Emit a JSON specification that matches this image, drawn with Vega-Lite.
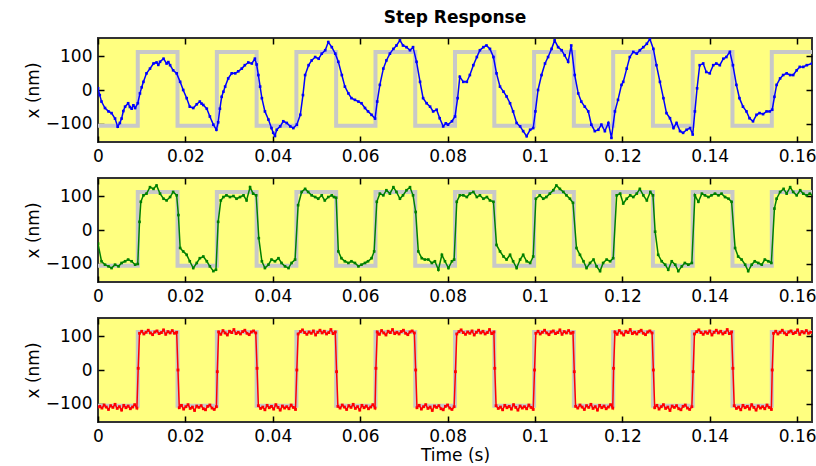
{
"$schema":"https://vega.github.io/schema/vega-lite/v6.json",
"padding":{"left":23,"top":8,"right":0,"bottom":0},
"config":{
"font":"DejaVu Sans",
"view":{"fill":"#ffff80","stroke":"#333333","strokeWidth":2},
"axis":{"domain":false,"grid":false,"ticks":true,"tickSize":-6,"tickWidth":1.5,"tickColor":"#000","labelFont":"DejaVu Sans","labelFontSize":17,"labelColor":"#000","labelPadding":12,"labelFlush":false,"labelOverlap":false,"titleFont":"DejaVu Sans","titleFontSize":17,"titleFontWeight":"normal","titleColor":"#000","titlePadding":3},
"title":{"font":"DejaVu Sans","fontSize":17,"fontWeight":"bold","color":"#000"}
},
"datasets":{
"sq":[{"t":0,"x":-105},{"t":0.0091,"x":112},{"t":0.0182,"x":-105},{"t":0.0272,"x":112},{"t":0.0363,"x":-105},{"t":0.0454,"x":112},{"t":0.0545,"x":-105},{"t":0.0635,"x":112},{"t":0.0726,"x":-105},{"t":0.0817,"x":112},{"t":0.0907,"x":-105},{"t":0.0998,"x":112},{"t":0.1089,"x":-105},{"t":0.1179,"x":112},{"t":0.127,"x":-105},{"t":0.1361,"x":112},{"t":0.1452,"x":-105},{"t":0.1542,"x":112},{"t":0.1634,"x":112}],
"blue":[{"t":0,"x":5},{"t":0.0004,"x":-15},{"t":0.0008,"x":-34},{"t":0.0016,"x":-53},{"t":0.0024,"x":-63},{"t":0.0031,"x":-68},{"t":0.0039,"x":-84},{"t":0.0045,"x":-108},{"t":0.005,"x":-97},{"t":0.0054,"x":-84},{"t":0.0058,"x":-62},{"t":0.0062,"x":-49},{"t":0.0069,"x":-39},{"t":0.0073,"x":-50},{"t":0.0077,"x":-55},{"t":0.0081,"x":-45},{"t":0.0085,"x":-53},{"t":0.0091,"x":-39},{"t":0.0096,"x":-10},{"t":0.01,"x":8},{"t":0.0104,"x":24},{"t":0.0111,"x":49},{"t":0.0119,"x":63},{"t":0.0127,"x":78},{"t":0.0134,"x":81},{"t":0.0138,"x":74},{"t":0.0142,"x":83},{"t":0.015,"x":92},{"t":0.0157,"x":78},{"t":0.0161,"x":82},{"t":0.0165,"x":73},{"t":0.0172,"x":58},{"t":0.018,"x":49},{"t":0.0188,"x":24},{"t":0.0195,"x":0},{"t":0.0203,"x":-24},{"t":0.021,"x":-49},{"t":0.0218,"x":-53},{"t":0.0226,"x":-42},{"t":0.0233,"x":-34},{"t":0.0237,"x":-40},{"t":0.0241,"x":-44},{"t":0.0249,"x":-55},{"t":0.0256,"x":-78},{"t":0.0264,"x":-102},{"t":0.0271,"x":-117},{"t":0.0275,"x":-95},{"t":0.0279,"x":-55},{"t":0.0283,"x":-20},{"t":0.0287,"x":-5},{"t":0.0291,"x":10},{"t":0.0298,"x":34},{"t":0.0306,"x":49},{"t":0.0314,"x":49},{"t":0.0321,"x":55},{"t":0.0329,"x":63},{"t":0.0336,"x":73},{"t":0.0344,"x":81},{"t":0.0352,"x":78},{"t":0.0359,"x":92},{"t":0.0363,"x":75},{"t":0.0367,"x":44},{"t":0.0371,"x":10},{"t":0.0375,"x":-24},{"t":0.0382,"x":-63},{"t":0.039,"x":-87},{"t":0.0397,"x":-112},{"t":0.0401,"x":-126},{"t":0.0405,"x":-135},{"t":0.0409,"x":-117},{"t":0.0417,"x":-107},{"t":0.0424,"x":-92},{"t":0.0432,"x":-97},{"t":0.044,"x":-107},{"t":0.0447,"x":-112},{"t":0.0455,"x":-102},{"t":0.0463,"x":-73},{"t":0.0469,"x":-15},{"t":0.0474,"x":44},{"t":0.0482,"x":73},{"t":0.0489,"x":87},{"t":0.0497,"x":97},{"t":0.0505,"x":92},{"t":0.0512,"x":107},{"t":0.052,"x":117},{"t":0.0527,"x":141},{"t":0.0535,"x":126},{"t":0.0543,"x":107},{"t":0.055,"x":83},{"t":0.0558,"x":44},{"t":0.0565,"x":10},{"t":0.0573,"x":-10},{"t":0.058,"x":-24},{"t":0.0588,"x":-29},{"t":0.0596,"x":-34},{"t":0.0603,"x":-39},{"t":0.0611,"x":-53},{"t":0.0618,"x":-63},{"t":0.0626,"x":-73},{"t":0.0634,"x":-84},{"t":0.0639,"x":-34},{"t":0.0645,"x":15},{"t":0.0653,"x":63},{"t":0.066,"x":87},{"t":0.0668,"x":107},{"t":0.0676,"x":121},{"t":0.0683,"x":131},{"t":0.0691,"x":146},{"t":0.0698,"x":131},{"t":0.0706,"x":126},{"t":0.0714,"x":117},{"t":0.0721,"x":126},{"t":0.0729,"x":83},{"t":0.0737,"x":24},{"t":0.0744,"x":-24},{"t":0.0752,"x":-39},{"t":0.076,"x":-49},{"t":0.0767,"x":-63},{"t":0.0775,"x":-58},{"t":0.0782,"x":-83},{"t":0.079,"x":-107},{"t":0.0796,"x":-98},{"t":0.0801,"x":-102},{"t":0.081,"x":-92},{"t":0.0817,"x":-78},{"t":0.0823,"x":-24},{"t":0.0828,"x":39},{"t":0.0836,"x":24},{"t":0.0844,"x":24},{"t":0.0851,"x":44},{"t":0.0859,"x":73},{"t":0.0867,"x":97},{"t":0.0874,"x":117},{"t":0.0882,"x":126},{"t":0.0889,"x":131},{"t":0.0897,"x":121},{"t":0.0905,"x":97},{"t":0.0912,"x":49},{"t":0.092,"x":10},{"t":0.0928,"x":-5},{"t":0.0935,"x":-19},{"t":0.0943,"x":-39},{"t":0.095,"x":-63},{"t":0.0958,"x":-97},{"t":0.0966,"x":-107},{"t":0.0973,"x":-121},{"t":0.0981,"x":-136},{"t":0.0989,"x":-117},{"t":0.0996,"x":-112},{"t":0.1001,"x":-63},{"t":0.1007,"x":0},{"t":0.1015,"x":44},{"t":0.1023,"x":78},{"t":0.103,"x":97},{"t":0.1038,"x":121},{"t":0.1045,"x":146},{"t":0.1053,"x":126},{"t":0.1061,"x":117},{"t":0.1068,"x":102},{"t":0.1076,"x":83},{"t":0.1083,"x":131},{"t":0.1091,"x":44},{"t":0.1099,"x":-10},{"t":0.1106,"x":-34},{"t":0.1114,"x":-49},{"t":0.1122,"x":-63},{"t":0.1129,"x":-102},{"t":0.1137,"x":-121},{"t":0.1145,"x":-117},{"t":0.1152,"x":-102},{"t":0.116,"x":-121},{"t":0.1168,"x":-97},{"t":0.1175,"x":-141},{"t":0.1183,"x":-63},{"t":0.119,"x":-29},{"t":0.1198,"x":15},{"t":0.1202,"x":24},{"t":0.121,"x":63},{"t":0.1217,"x":97},{"t":0.1225,"x":112},{"t":0.1233,"x":107},{"t":0.124,"x":117},{"t":0.1248,"x":126},{"t":0.1256,"x":136},{"t":0.1263,"x":150},{"t":0.1271,"x":121},{"t":0.1278,"x":73},{"t":0.1286,"x":24},{"t":0.1294,"x":-24},{"t":0.1301,"x":-68},{"t":0.1309,"x":-83},{"t":0.1317,"x":-112},{"t":0.1324,"x":-97},{"t":0.1332,"x":-121},{"t":0.1339,"x":-126},{"t":0.1347,"x":-117},{"t":0.1355,"x":-112},{"t":0.1361,"x":-131},{"t":0.1366,"x":-63},{"t":0.1371,"x":5},{"t":0.1377,"x":73},{"t":0.1385,"x":78},{"t":0.1392,"x":53},{"t":0.14,"x":49},{"t":0.1408,"x":73},{"t":0.1415,"x":78},{"t":0.1423,"x":73},{"t":0.1431,"x":92},{"t":0.1438,"x":97},{"t":0.1446,"x":112},{"t":0.1453,"x":73},{"t":0.1461,"x":15},{"t":0.1468,"x":-24},{"t":0.1476,"x":-49},{"t":0.1484,"x":-63},{"t":0.1491,"x":-83},{"t":0.1499,"x":-92},{"t":0.1507,"x":-73},{"t":0.1514,"x":-68},{"t":0.1522,"x":-71},{"t":0.153,"x":-63},{"t":0.1537,"x":-63},{"t":0.1543,"x":-58},{"t":0.1548,"x":-20},{"t":0.1553,"x":15},{"t":0.1561,"x":34},{"t":0.1568,"x":44},{"t":0.1576,"x":49},{"t":0.1584,"x":44},{"t":0.1591,"x":44},{"t":0.1599,"x":58},{"t":0.1606,"x":68},{"t":0.1614,"x":68},{"t":0.1622,"x":73},{"t":0.1634,"x":78}],
"green":[{"t":0,"x":-40},{"t":0.0008,"x":-92},{"t":0.0016,"x":-102},{"t":0.0024,"x":-107},{"t":0.0031,"x":-112},{"t":0.0039,"x":-102},{"t":0.0047,"x":-107},{"t":0.0054,"x":-97},{"t":0.0062,"x":-92},{"t":0.0069,"x":-87},{"t":0.0077,"x":-92},{"t":0.0085,"x":-102},{"t":0.0091,"x":-100},{"t":0.0095,"x":24},{"t":0.0098,"x":83},{"t":0.0104,"x":102},{"t":0.0111,"x":107},{"t":0.0119,"x":126},{"t":0.0127,"x":121},{"t":0.0134,"x":131},{"t":0.0142,"x":107},{"t":0.015,"x":92},{"t":0.0157,"x":87},{"t":0.0165,"x":97},{"t":0.0172,"x":112},{"t":0.018,"x":102},{"t":0.0184,"x":44},{"t":0.0188,"x":-53},{"t":0.0195,"x":-63},{"t":0.0203,"x":-73},{"t":0.021,"x":-92},{"t":0.0218,"x":-112},{"t":0.0226,"x":-97},{"t":0.0233,"x":-83},{"t":0.0241,"x":-78},{"t":0.0249,"x":-92},{"t":0.0256,"x":-107},{"t":0.0264,"x":-121},{"t":0.027,"x":-117},{"t":0.0275,"x":24},{"t":0.0281,"x":87},{"t":0.0287,"x":97},{"t":0.0294,"x":102},{"t":0.0302,"x":97},{"t":0.031,"x":100},{"t":0.0317,"x":92},{"t":0.0325,"x":97},{"t":0.0333,"x":102},{"t":0.034,"x":87},{"t":0.0348,"x":126},{"t":0.0355,"x":107},{"t":0.0362,"x":102},{"t":0.0368,"x":-24},{"t":0.0375,"x":-92},{"t":0.0382,"x":-112},{"t":0.039,"x":-102},{"t":0.0397,"x":-87},{"t":0.0405,"x":-92},{"t":0.0413,"x":-83},{"t":0.042,"x":-97},{"t":0.0428,"x":-107},{"t":0.0436,"x":-112},{"t":0.0443,"x":-97},{"t":0.0451,"x":-87},{"t":0.0458,"x":73},{"t":0.0466,"x":112},{"t":0.0474,"x":121},{"t":0.0481,"x":112},{"t":0.0489,"x":102},{"t":0.0497,"x":97},{"t":0.0504,"x":92},{"t":0.0512,"x":102},{"t":0.0519,"x":87},{"t":0.0527,"x":97},{"t":0.0535,"x":102},{"t":0.054,"x":97},{"t":0.0545,"x":95},{"t":0.055,"x":-63},{"t":0.0557,"x":-83},{"t":0.0565,"x":-92},{"t":0.0573,"x":-97},{"t":0.058,"x":-92},{"t":0.0588,"x":-97},{"t":0.0596,"x":-107},{"t":0.0603,"x":-102},{"t":0.0611,"x":-97},{"t":0.0618,"x":-92},{"t":0.0626,"x":-83},{"t":0.0632,"x":-63},{"t":0.0638,"x":83},{"t":0.0645,"x":107},{"t":0.0653,"x":102},{"t":0.066,"x":117},{"t":0.0668,"x":107},{"t":0.0676,"x":126},{"t":0.0683,"x":112},{"t":0.0691,"x":92},{"t":0.0698,"x":102},{"t":0.0706,"x":117},{"t":0.0714,"x":126},{"t":0.0721,"x":102},{"t":0.0727,"x":53},{"t":0.0733,"x":-63},{"t":0.0741,"x":-83},{"t":0.0748,"x":-87},{"t":0.0756,"x":-87},{"t":0.0764,"x":-97},{"t":0.0771,"x":-92},{"t":0.0779,"x":-117},{"t":0.0787,"x":-73},{"t":0.0794,"x":-92},{"t":0.0802,"x":-112},{"t":0.081,"x":-92},{"t":0.0815,"x":-87},{"t":0.0821,"x":83},{"t":0.0828,"x":102},{"t":0.0836,"x":102},{"t":0.0844,"x":97},{"t":0.0851,"x":107},{"t":0.0859,"x":112},{"t":0.0867,"x":97},{"t":0.0874,"x":102},{"t":0.0882,"x":92},{"t":0.089,"x":97},{"t":0.0897,"x":87},{"t":0.0905,"x":83},{"t":0.0912,"x":-44},{"t":0.092,"x":-63},{"t":0.0928,"x":-78},{"t":0.0935,"x":-87},{"t":0.0943,"x":-73},{"t":0.095,"x":-92},{"t":0.0958,"x":-112},{"t":0.0966,"x":-87},{"t":0.0973,"x":-73},{"t":0.0981,"x":-92},{"t":0.0989,"x":-97},{"t":0.0996,"x":-78},{"t":0.1002,"x":92},{"t":0.1011,"x":102},{"t":0.1019,"x":92},{"t":0.1026,"x":97},{"t":0.1034,"x":107},{"t":0.1042,"x":117},{"t":0.1049,"x":131},{"t":0.1057,"x":121},{"t":0.1065,"x":112},{"t":0.1072,"x":102},{"t":0.108,"x":92},{"t":0.1087,"x":80},{"t":0.1095,"x":-53},{"t":0.1103,"x":-73},{"t":0.1111,"x":-92},{"t":0.1118,"x":-112},{"t":0.1126,"x":-97},{"t":0.1134,"x":-87},{"t":0.1141,"x":-107},{"t":0.1149,"x":-121},{"t":0.1156,"x":-97},{"t":0.1164,"x":-87},{"t":0.1172,"x":-92},{"t":0.1179,"x":-83},{"t":0.1187,"x":102},{"t":0.1195,"x":107},{"t":0.1202,"x":78},{"t":0.121,"x":92},{"t":0.1218,"x":102},{"t":0.1225,"x":97},{"t":0.1233,"x":107},{"t":0.124,"x":121},{"t":0.1248,"x":102},{"t":0.1256,"x":87},{"t":0.1264,"x":112},{"t":0.127,"x":102},{"t":0.1275,"x":-5},{"t":0.1282,"x":-73},{"t":0.129,"x":-92},{"t":0.1298,"x":-102},{"t":0.1305,"x":-117},{"t":0.1313,"x":-92},{"t":0.1321,"x":-102},{"t":0.1328,"x":-121},{"t":0.1336,"x":-107},{"t":0.1343,"x":-97},{"t":0.1351,"x":-102},{"t":0.1359,"x":-97},{"t":0.1366,"x":102},{"t":0.1374,"x":83},{"t":0.1382,"x":107},{"t":0.1389,"x":102},{"t":0.1397,"x":97},{"t":0.1404,"x":102},{"t":0.1412,"x":107},{"t":0.142,"x":102},{"t":0.1427,"x":107},{"t":0.1435,"x":97},{"t":0.1443,"x":92},{"t":0.145,"x":83},{"t":0.1458,"x":-53},{"t":0.1465,"x":-78},{"t":0.1473,"x":-87},{"t":0.1481,"x":-102},{"t":0.1488,"x":-121},{"t":0.1496,"x":-102},{"t":0.1503,"x":-92},{"t":0.1511,"x":-97},{"t":0.1519,"x":-102},{"t":0.1526,"x":-87},{"t":0.1534,"x":-92},{"t":0.1541,"x":-97},{"t":0.1548,"x":63},{"t":0.1553,"x":92},{"t":0.1561,"x":112},{"t":0.1569,"x":121},{"t":0.1576,"x":107},{"t":0.1584,"x":126},{"t":0.1591,"x":112},{"t":0.1599,"x":102},{"t":0.1607,"x":117},{"t":0.1614,"x":107},{"t":0.1622,"x":102},{"t":0.1629,"x":107},{"t":0.1636,"x":102}],
"red":[{"t":0,"x":-109},{"t":0.0004,"x":-107},{"t":0.0009,"x":-112},{"t":0.0014,"x":-103},{"t":0.0019,"x":-109},{"t":0.0024,"x":-116},{"t":0.0029,"x":-105},{"t":0.0034,"x":-110},{"t":0.0039,"x":-101},{"t":0.0044,"x":-113},{"t":0.0049,"x":-108},{"t":0.0054,"x":-118},{"t":0.0059,"x":-104},{"t":0.0064,"x":-111},{"t":0.0069,"x":-106},{"t":0.0074,"x":-114},{"t":0.0079,"x":-109},{"t":0.0084,"x":-102},{"t":0.0089,"x":-112},
{"t":0.0092,"x":5},{"t":0.0095,"x":108},{"t":0.01,"x":114},{"t":0.0105,"x":106},{"t":0.011,"x":111},{"t":0.0115,"x":117},{"t":0.012,"x":109},{"t":0.0125,"x":104},{"t":0.013,"x":112},{"t":0.0135,"x":115},{"t":0.014,"x":107},{"t":0.0145,"x":110},{"t":0.015,"x":118},{"t":0.0155,"x":105},{"t":0.016,"x":113},{"t":0.0165,"x":109},{"t":0.017,"x":116},{"t":0.0175,"x":108},{"t":0.018,"x":111},
{"t":0.0183,"x":0},{"t":0.0186,"x":-111},{"t":0.0191,"x":-104},{"t":0.0196,"x":-115},{"t":0.0201,"x":-108},{"t":0.0206,"x":-102},{"t":0.0211,"x":-113},{"t":0.0216,"x":-109},{"t":0.0221,"x":-119},{"t":0.0226,"x":-106},{"t":0.0231,"x":-110},{"t":0.0236,"x":-105},{"t":0.0241,"x":-114},{"t":0.0246,"x":-117},{"t":0.0251,"x":-107},{"t":0.0256,"x":-103},{"t":0.0261,"x":-112},{"t":0.0266,"x":-116},{"t":0.0271,"x":-108},
{"t":0.0273,"x":-5},{"t":0.0276,"x":112},{"t":0.0281,"x":105},{"t":0.0286,"x":116},{"t":0.0291,"x":109},{"t":0.0296,"x":103},{"t":0.0301,"x":114},{"t":0.0306,"x":110},{"t":0.0311,"x":119},{"t":0.0316,"x":107},{"t":0.0321,"x":111},{"t":0.0326,"x":106},{"t":0.0331,"x":113},{"t":0.0336,"x":117},{"t":0.0341,"x":108},{"t":0.0346,"x":104},{"t":0.0351,"x":112},{"t":0.0356,"x":115},{"t":0.0361,"x":109},
{"t":0.0364,"x":5},{"t":0.0367,"x":-105},{"t":0.0372,"x":-113},{"t":0.0377,"x":-109},{"t":0.0382,"x":-117},{"t":0.0387,"x":-104},{"t":0.0392,"x":-111},{"t":0.0397,"x":-107},{"t":0.0402,"x":-115},{"t":0.0407,"x":-102},{"t":0.0412,"x":-110},{"t":0.0417,"x":-118},{"t":0.0422,"x":-106},{"t":0.0427,"x":-112},{"t":0.0432,"x":-108},{"t":0.0437,"x":-114},{"t":0.0442,"x":-103},{"t":0.0447,"x":-110},{"t":0.0452,"x":-116},
{"t":0.0455,"x":0},{"t":0.0458,"x":106},{"t":0.0463,"x":113},{"t":0.0468,"x":118},{"t":0.0473,"x":110},{"t":0.0478,"x":105},{"t":0.0483,"x":112},{"t":0.0488,"x":108},{"t":0.0493,"x":115},{"t":0.0498,"x":103},{"t":0.0503,"x":111},{"t":0.0508,"x":117},{"t":0.0513,"x":109},{"t":0.0518,"x":114},{"t":0.0523,"x":106},{"t":0.0528,"x":110},{"t":0.0533,"x":119},{"t":0.0538,"x":107},{"t":0.0543,"x":112},
{"t":0.0546,"x":-5},{"t":0.0549,"x":-107},{"t":0.0554,"x":-112},{"t":0.0559,"x":-103},{"t":0.0564,"x":-109},{"t":0.0569,"x":-116},{"t":0.0574,"x":-105},{"t":0.0579,"x":-110},{"t":0.0584,"x":-101},{"t":0.0589,"x":-113},{"t":0.0594,"x":-108},{"t":0.0599,"x":-118},{"t":0.0604,"x":-104},{"t":0.0609,"x":-111},{"t":0.0614,"x":-106},{"t":0.0619,"x":-114},{"t":0.0624,"x":-109},{"t":0.0629,"x":-102},{"t":0.0634,"x":-112},
{"t":0.0636,"x":5},{"t":0.0639,"x":112},{"t":0.0644,"x":105},{"t":0.0649,"x":116},{"t":0.0654,"x":109},{"t":0.0659,"x":103},{"t":0.0664,"x":114},{"t":0.0669,"x":110},{"t":0.0674,"x":119},{"t":0.0679,"x":107},{"t":0.0684,"x":111},{"t":0.0689,"x":106},{"t":0.0694,"x":113},{"t":0.0699,"x":117},{"t":0.0704,"x":108},{"t":0.0709,"x":104},{"t":0.0714,"x":112},{"t":0.0719,"x":115},{"t":0.0724,"x":109},
{"t":0.0727,"x":0},{"t":0.073,"x":-111},{"t":0.0735,"x":-104},{"t":0.074,"x":-115},{"t":0.0745,"x":-108},{"t":0.075,"x":-102},{"t":0.0755,"x":-113},{"t":0.076,"x":-109},{"t":0.0765,"x":-119},{"t":0.077,"x":-106},{"t":0.0775,"x":-110},{"t":0.078,"x":-105},{"t":0.0785,"x":-114},{"t":0.079,"x":-117},{"t":0.0795,"x":-107},{"t":0.08,"x":-103},{"t":0.0805,"x":-112},{"t":0.081,"x":-116},{"t":0.0815,"x":-108},
{"t":0.0818,"x":-5},{"t":0.0821,"x":106},{"t":0.0826,"x":113},{"t":0.0831,"x":118},{"t":0.0836,"x":110},{"t":0.0841,"x":105},{"t":0.0846,"x":112},{"t":0.0851,"x":108},{"t":0.0856,"x":115},{"t":0.0861,"x":103},{"t":0.0866,"x":111},{"t":0.0871,"x":117},{"t":0.0876,"x":109},{"t":0.0881,"x":114},{"t":0.0886,"x":106},{"t":0.0891,"x":110},{"t":0.0896,"x":119},{"t":0.0901,"x":107},{"t":0.0906,"x":112},
{"t":0.0908,"x":5},{"t":0.0911,"x":-105},{"t":0.0916,"x":-113},{"t":0.0921,"x":-109},{"t":0.0926,"x":-117},{"t":0.0931,"x":-104},{"t":0.0936,"x":-111},{"t":0.0941,"x":-107},{"t":0.0946,"x":-115},{"t":0.0951,"x":-102},{"t":0.0956,"x":-110},{"t":0.0961,"x":-118},{"t":0.0966,"x":-106},{"t":0.0971,"x":-112},{"t":0.0976,"x":-108},{"t":0.0981,"x":-114},{"t":0.0986,"x":-103},{"t":0.0991,"x":-110},{"t":0.0996,"x":-116},
{"t":0.0999,"x":0},{"t":0.1002,"x":108},{"t":0.1007,"x":114},{"t":0.1012,"x":106},{"t":0.1017,"x":111},{"t":0.1022,"x":117},{"t":0.1027,"x":109},{"t":0.1032,"x":104},{"t":0.1037,"x":112},{"t":0.1042,"x":115},{"t":0.1047,"x":107},{"t":0.1052,"x":110},{"t":0.1057,"x":118},{"t":0.1062,"x":105},{"t":0.1067,"x":113},{"t":0.1072,"x":109},{"t":0.1077,"x":116},{"t":0.1082,"x":108},{"t":0.1087,"x":111},
{"t":0.109,"x":-5},{"t":0.1093,"x":-107},{"t":0.1098,"x":-112},{"t":0.1103,"x":-103},{"t":0.1108,"x":-109},{"t":0.1113,"x":-116},{"t":0.1118,"x":-105},{"t":0.1123,"x":-110},{"t":0.1128,"x":-101},{"t":0.1133,"x":-113},{"t":0.1138,"x":-108},{"t":0.1143,"x":-118},{"t":0.1148,"x":-104},{"t":0.1153,"x":-111},{"t":0.1158,"x":-106},{"t":0.1163,"x":-114},{"t":0.1168,"x":-109},{"t":0.1173,"x":-102},{"t":0.1178,"x":-112},
{"t":0.118,"x":5},{"t":0.1183,"x":112},{"t":0.1188,"x":105},{"t":0.1193,"x":116},{"t":0.1198,"x":109},{"t":0.1203,"x":103},{"t":0.1208,"x":114},{"t":0.1213,"x":110},{"t":0.1218,"x":119},{"t":0.1223,"x":107},{"t":0.1228,"x":111},{"t":0.1233,"x":106},{"t":0.1238,"x":113},{"t":0.1243,"x":117},{"t":0.1248,"x":108},{"t":0.1253,"x":104},{"t":0.1258,"x":112},{"t":0.1263,"x":115},{"t":0.1268,"x":109},
{"t":0.1271,"x":0},{"t":0.1274,"x":-111},{"t":0.1279,"x":-104},{"t":0.1284,"x":-115},{"t":0.1289,"x":-108},{"t":0.1294,"x":-102},{"t":0.1299,"x":-113},{"t":0.1304,"x":-109},{"t":0.1309,"x":-119},{"t":0.1314,"x":-106},{"t":0.1319,"x":-110},{"t":0.1324,"x":-105},{"t":0.1329,"x":-114},{"t":0.1334,"x":-117},{"t":0.1339,"x":-107},{"t":0.1344,"x":-103},{"t":0.1349,"x":-112},{"t":0.1354,"x":-116},{"t":0.1359,"x":-108},
{"t":0.1362,"x":-5},{"t":0.1365,"x":106},{"t":0.137,"x":113},{"t":0.1375,"x":118},{"t":0.138,"x":110},{"t":0.1385,"x":105},{"t":0.139,"x":112},{"t":0.1395,"x":108},{"t":0.14,"x":115},{"t":0.1405,"x":103},{"t":0.141,"x":111},{"t":0.1415,"x":117},{"t":0.142,"x":109},{"t":0.1425,"x":114},{"t":0.143,"x":106},{"t":0.1435,"x":110},{"t":0.144,"x":119},{"t":0.1445,"x":107},{"t":0.145,"x":112},
{"t":0.1453,"x":5},{"t":0.1456,"x":-105},{"t":0.1461,"x":-113},{"t":0.1466,"x":-109},{"t":0.1471,"x":-117},{"t":0.1476,"x":-104},{"t":0.1481,"x":-111},{"t":0.1486,"x":-107},{"t":0.1491,"x":-115},{"t":0.1496,"x":-102},{"t":0.1501,"x":-110},{"t":0.1506,"x":-118},{"t":0.1511,"x":-106},{"t":0.1516,"x":-112},{"t":0.1521,"x":-108},{"t":0.1526,"x":-114},{"t":0.1531,"x":-103},{"t":0.1536,"x":-110},{"t":0.1541,"x":-116},
{"t":0.1543,"x":0},{"t":0.1546,"x":108},{"t":0.1551,"x":114},{"t":0.1556,"x":106},{"t":0.1561,"x":111},{"t":0.1566,"x":117},{"t":0.1571,"x":109},{"t":0.1576,"x":104},{"t":0.1581,"x":112},{"t":0.1586,"x":115},{"t":0.1591,"x":107},{"t":0.1596,"x":110},{"t":0.1601,"x":118},{"t":0.1606,"x":105},{"t":0.1611,"x":113},{"t":0.1616,"x":109},{"t":0.1621,"x":116},{"t":0.1626,"x":108},{"t":0.1631,"x":111}]
},
"bounds":"flush",
"spacing":36,
"vconcat":[
{"width":714,"height":104,
"title":{"text":"Step Response","offset":10,"frame":"group"},
"layer":[
{"data":{"name":"sq"},"mark":{"type":"line","interpolate":"step-after","color":"#c8c8c8","strokeWidth":4,"clip":true},
"encoding":{"x":{"field":"t","type":"quantitative","scale":{"domain":[0,0.1634],"nice":false,"zero":false},"axis":{"values":[0,0.02,0.04,0.06,0.08,0.1,0.12,0.14,0.16],"format":"~g","title":null}},
"y":{"field":"x","type":"quantitative","scale":{"domain":[-153,153],"nice":false},"axis":{"values":[-100,0,100],"title":"x (nm)"}}}},
{"data":{"name":"blue"},"mark":{"type":"line","color":"#0000ff","strokeWidth":1.5,"clip":true,"point":{"filled":true,"shape":"square","size":7,"color":"#0000ff"}},
"encoding":{"x":{"field":"t","type":"quantitative","axis":{"orient":"top","labels":false,"values":[0,0.02,0.04,0.06,0.08,0.1,0.12,0.14,0.16],"title":null}},
"y":{"field":"x","type":"quantitative","axis":{"orient":"right","labels":false,"values":[-100,0,100],"title":null}}}}
],
"resolve":{"axis":{"x":"independent","y":"independent"}}},
{"width":714,"height":104,
"layer":[
{"data":{"name":"sq"},"mark":{"type":"line","interpolate":"step-after","color":"#c8c8c8","strokeWidth":4,"clip":true},
"encoding":{"x":{"field":"t","type":"quantitative","scale":{"domain":[0,0.1634],"nice":false,"zero":false},"axis":{"values":[0,0.02,0.04,0.06,0.08,0.1,0.12,0.14,0.16],"format":"~g","title":null}},
"y":{"field":"x","type":"quantitative","scale":{"domain":[-153,153],"nice":false},"axis":{"values":[-100,0,100],"title":"x (nm)"}}}},
{"data":{"name":"green"},"mark":{"type":"line","color":"#008000","strokeWidth":1.5,"clip":true,"point":{"filled":true,"shape":"square","size":7,"color":"#008000"}},
"encoding":{"x":{"field":"t","type":"quantitative","axis":{"orient":"top","labels":false,"values":[0,0.02,0.04,0.06,0.08,0.1,0.12,0.14,0.16],"title":null}},
"y":{"field":"x","type":"quantitative","axis":{"orient":"right","labels":false,"values":[-100,0,100],"title":null}}}}
],
"resolve":{"axis":{"x":"independent","y":"independent"}}},
{"width":714,"height":104,
"layer":[
{"data":{"name":"sq"},"mark":{"type":"line","interpolate":"step-after","color":"#c8c8c8","strokeWidth":4,"clip":true},
"encoding":{"x":{"field":"t","type":"quantitative","scale":{"domain":[0,0.1634],"nice":false,"zero":false},"axis":{"values":[0,0.02,0.04,0.06,0.08,0.1,0.12,0.14,0.16],"format":"~g","title":"Time (s)"}},
"y":{"field":"x","type":"quantitative","scale":{"domain":[-153,153],"nice":false},"axis":{"values":[-100,0,100],"title":"x (nm)"}}}},
{"data":{"name":"red"},"mark":{"type":"line","color":"#ff0000","strokeWidth":1.5,"clip":true,"point":{"filled":true,"shape":"square","size":8,"color":"#ff0000"}},
"encoding":{"x":{"field":"t","type":"quantitative","axis":{"orient":"top","labels":false,"values":[0,0.02,0.04,0.06,0.08,0.1,0.12,0.14,0.16],"title":null}},
"y":{"field":"x","type":"quantitative","axis":{"orient":"right","labels":false,"values":[-100,0,100],"title":null}}}}
],
"resolve":{"axis":{"x":"independent","y":"independent"}}}
]
}
